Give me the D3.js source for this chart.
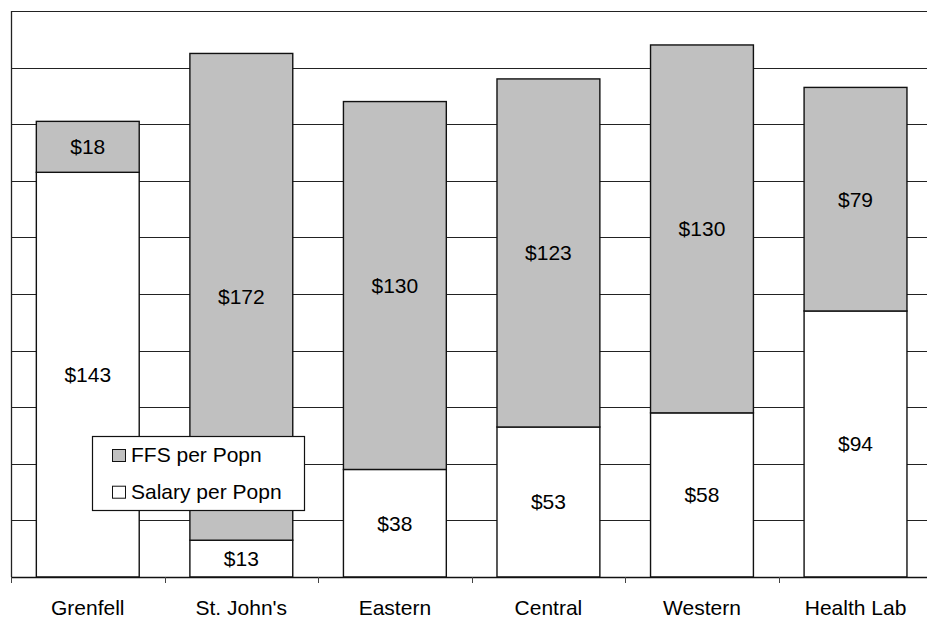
<!DOCTYPE html>
<html>
<head>
<meta charset="utf-8">
<script src="https://cdn.jsdelivr.net/npm/d3@7/dist/d3.min.js"></script>
<style>
  html, body { margin: 0; padding: 0; background: #fff; }
  svg { display: block; }
  text { font-family: "Liberation Sans", Arial, sans-serif; font-size: 21px; fill: #000; }
</style>
</head>
<body>
<svg id="chart" width="927" height="618"></svg>
<script>
// Per-population amounts by region
const categories = ["Grenfell", "St. John's", "Eastern", "Central", "Western", "Health Lab"];
const salaryPerPopn = [143, 13, 38, 53, 58, 94];
const ffsPerPopn = [18, 172, 130, 123, 130, 79];
const seriesNames = ["FFS per Popn", "Salary per Popn"];
const yTicks = [0, 20, 40, 60, 80, 100, 120, 140, 160, 180, 200];

const W = 927, H = 618;
const margin = { left: 11, top: 11, bottom: 41 };
const plotLeft = margin.left, plotRight = 932.3;
const plotTop = margin.top, plotBottom = H - margin.bottom; // 577

const svg = d3.select("#chart");

const x = d3.scaleBand()
  .domain(categories)
  .range([plotLeft, plotRight])
  .paddingInner(0.33)
  .paddingOuter(0.165);

const y = d3.scaleLinear().domain([0, 200]).range([plotBottom, plotTop]);

const rows = categories.map((c, i) => ({
  category: c,
  salary: salaryPerPopn[i],
  ffs: ffsPerPopn[i]
}));

// Horizontal gridlines
svg.append("g")
  .selectAll("line")
  .data(yTicks.filter(t => t > 0))
  .join("line")
  .attr("x1", plotLeft)
  .attr("x2", W)
  .attr("y1", d => Math.round(y(d)) + 0.5)
  .attr("y2", d => Math.round(y(d)) + 0.5)
  .attr("stroke", "#222")
  .attr("stroke-width", 1);

// Left axis line
svg.append("line")
  .attr("x1", plotLeft + 0.5).attr("x2", plotLeft + 0.5)
  .attr("y1", plotTop).attr("y2", plotBottom)
  .attr("stroke", "#222").attr("stroke-width", 1.3);

// Stacked bars: salary at the base, FFS above
const bars = svg.append("g");
const barGroups = bars.selectAll("g").data(rows).join("g");

barGroups.append("rect")
  .attr("x", d => x(d.category))
  .attr("width", x.bandwidth())
  .attr("y", d => y(d.salary))
  .attr("height", d => y(0) - y(d.salary))
  .attr("fill", "#ffffff")
  .attr("stroke", "#111")
  .attr("stroke-width", 1.4);

barGroups.append("rect")
  .attr("x", d => x(d.category))
  .attr("width", x.bandwidth())
  .attr("y", d => y(d.salary + d.ffs))
  .attr("height", d => y(d.salary) - y(d.salary + d.ffs))
  .attr("fill", "#c0c0c0")
  .attr("stroke", "#111")
  .attr("stroke-width", 1.4);

// Value labels centred in each segment
barGroups.append("text")
  .attr("x", d => x(d.category) + x.bandwidth() / 2)
  .attr("y", d => (y(0) + y(d.salary)) / 2)
  .attr("text-anchor", "middle")
  .attr("dy", "0.35em")
  .text(d => "$" + d.salary);

barGroups.append("text")
  .attr("x", d => x(d.category) + x.bandwidth() / 2)
  .attr("y", d => (y(d.salary) + y(d.salary + d.ffs)) / 2)
  .attr("text-anchor", "middle")
  .attr("dy", "0.35em")
  .text(d => "$" + d.ffs);

// Bottom axis with ticks between categories
const boundaries = d3.range(categories.length).map(i => x(categories[i]) - x.paddingOuter() * x.step());
const xAxis = svg.append("g");
xAxis.append("line")
  .attr("x1", plotLeft).attr("x2", W)
  .attr("y1", plotBottom + 0.5).attr("y2", plotBottom + 0.5)
  .attr("stroke", "#111").attr("stroke-width", 1.6);
xAxis.selectAll("line.tick")
  .data(boundaries)
  .join("line")
  .attr("class", "tick")
  .attr("x1", d => Math.round(d) + 0.5).attr("x2", d => Math.round(d) + 0.5)
  .attr("y1", plotBottom).attr("y2", plotBottom + 6)
  .attr("stroke", "#444").attr("stroke-width", 1);
xAxis.selectAll("text")
  .data(categories)
  .join("text")
  .attr("x", d => x(d) + x.bandwidth() / 2)
  .attr("y", 615)
  .attr("text-anchor", "middle")
  .text(d => d);

// Legend
const legend = svg.append("g");
legend.append("rect")
  .attr("x", 92.5).attr("y", 436.5)
  .attr("width", 212).attr("height", 74)
  .attr("fill", "#fff").attr("stroke", "#111").attr("stroke-width", 1.2);
const legendFills = ["#c0c0c0", "#ffffff"];
const legendRows = legend.selectAll("g.item")
  .data(seriesNames)
  .join("g")
  .attr("class", "item")
  .attr("transform", (d, i) => `translate(0, ${i * 36.7})`);
legendRows.append("rect")
  .attr("x", 112.5).attr("y", 449.5)
  .attr("width", 13).attr("height", 12)
  .attr("fill", (d, i) => legendFills[i])
  .attr("stroke", "#111").attr("stroke-width", 1);
legendRows.append("text")
  .attr("x", 131)
  .attr("y", 462.3)
  .text(d => d);
</script>
</body>
</html>
